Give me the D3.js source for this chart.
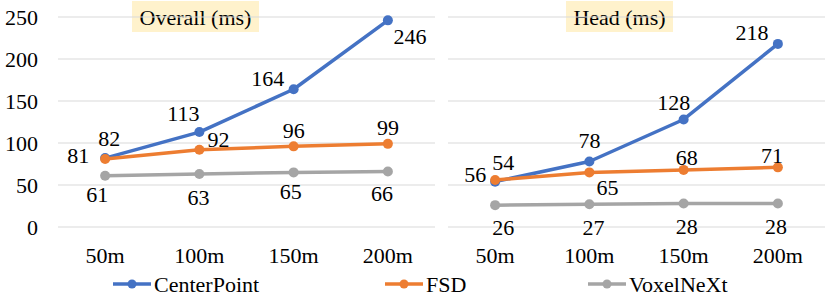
<!DOCTYPE html>
<html>
<head>
<meta charset="utf-8">
<script src="https://cdn.jsdelivr.net/npm/d3@7"></script>
</head>
<body style="margin:0">
<script>
// values
var categories = ["50m", "100m", "150m", "200m"];
var seriesNames = ["CenterPoint", "FSD", "VoxelNeXt"];
var overallCenterPoint = [82, 113, 164, 246];
var overallFSD = [81, 92, 96, 99];
var overallVoxelNeXt = [61, 63, 65, 66];
var headCenterPoint = [54, 78, 128, 218];
var headFSD = [56, 65, 68, 71];
var headVoxelNeXt = [26, 27, 28, 28];
var yTicks = [0, 50, 100, 150, 200, 250];

// where each data label sits relative to its point (dx, dy)
var overallLabelPos = [
    [[4, -20], [-16, -19], [-26, -11], [22, 16]],
    [[-27, -3], [19, -10], [0, -16], [0, -16]],
    [[-8, 19], [-1, 23], [-3, 19], [-6, 22]]
];
var headLabelPos = [
    [[8, -19], [0, -21], [-10, -17], [-26, -11]],
    [[-20, -5], [18, 15], [3, -12], [-6, -12]],
    [[8, 22], [4, 23], [3, 23], [-2, 23]]
];

var colors = ["#4472C4", "#ED7D31", "#A5A5A5"];
var fs = 22;
var base = 7.5; // baseline shift so y is the text centre

var svg = d3.select("body").append("svg")
    .attr("width", 831)
    .attr("height", 297);

function addText(x, y, str, anchor) {
    return svg.append("text")
        .attr("x", x)
        .attr("y", y + base)
        .attr("font-family", "Liberation Serif")
        .attr("font-size", fs)
        .attr("text-anchor", anchor || "middle")
        .text(str);
}

function getScales(left, right) {
    var xScale = d3.scalePoint()
        .domain(categories)
        .range([left, right])
        .padding(0.5);
    var yScale = d3.scaleLinear()
        .domain([0, 250])
        .range([227, 17]);
    return { xScale, yScale };
}

function drawPanel(opts) {
    var { xScale, yScale } = getScales(opts.left, opts.right);

    // title box
    svg.append("rect")
        .attr("x", opts.boxX)
        .attr("y", 1)
        .attr("width", opts.boxW)
        .attr("height", 31)
        .attr("fill", "#FFF2CC");
    addText(opts.boxX + opts.boxW / 2, 17, opts.title);

    yTicks.forEach(t => {
        svg.append("line")
            .attr("x1", opts.left).attr("x2", opts.right)
            .attr("y1", yScale(t)).attr("y2", yScale(t))
            .attr("stroke", "#d9d9d9")
            .attr("stroke-width", 1);
        if (opts.showY) addText(opts.left - 20, yScale(t), t, "end");
    });

    categories.forEach(c => addText(xScale(c), 255, c));

    var line = d3.line()
        .x((d, i) => xScale(categories[i]))
        .y(d => yScale(d));

    opts.series.forEach((vals, s) => {
        svg.append("path")
            .attr("d", line(vals))
            .attr("fill", "none")
            .attr("stroke", colors[s])
            .attr("stroke-width", 3.5)
            .attr("stroke-linejoin", "round");
        vals.forEach((d, i) => {
            svg.append("circle")
                .attr("cx", xScale(categories[i]))
                .attr("cy", yScale(d))
                .attr("r", 5)
                .attr("fill", colors[s]);
        });
    });

    opts.series.forEach((vals, s) => {
        vals.forEach((d, i) => {
            addText(xScale(categories[i]) + opts.labelPos[s][i][0],
                yScale(d) + opts.labelPos[s][i][1], d);
        });
    });
}

function drawLegend() {
    var legendX = [113, 385, 588];
    seriesNames.forEach((name, s) => {
        var x0 = legendX[s];
        svg.append("line")
            .attr("x1", x0).attr("x2", x0 + 38)
            .attr("y1", 284).attr("y2", 284)
            .attr("stroke", colors[s])
            .attr("stroke-width", 3.5);
        svg.append("circle")
            .attr("cx", x0 + 19).attr("cy", 284).attr("r", 4.5)
            .attr("fill", colors[s]);
        addText(x0 + 41, 284, name, "start");
    });
}

drawPanel({
    left: 58, right: 435, showY: true,
    title: "Overall (ms)", boxX: 132, boxW: 127,
    series: [overallCenterPoint, overallFSD, overallVoxelNeXt],
    labelPos: overallLabelPos
});
drawPanel({
    left: 448, right: 825, showY: false,
    title: "Head (ms)", boxX: 566, boxW: 107,
    series: [headCenterPoint, headFSD, headVoxelNeXt],
    labelPos: headLabelPos
});
drawLegend();
</script>
</body>
</html>
